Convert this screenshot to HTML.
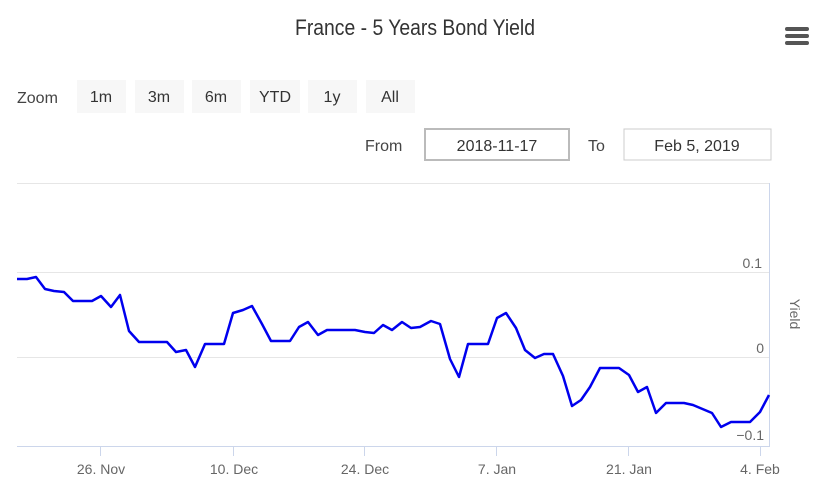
<!DOCTYPE html>
<html><head><meta charset="utf-8"><style>
html,body{margin:0;padding:0;background:#fff;}
svg{display:block;font-family:"Liberation Sans",sans-serif;}
</style></head><body>
<svg width="827" height="493" viewBox="0 0 827 493">
<text x="415" y="35" text-anchor="middle" font-size="22" fill="#333" transform="translate(415,0) scale(0.88,1) translate(-415,0)">France - 5 Years Bond Yield</text>
<g fill="#555"><rect x="785" y="27" width="24" height="4" rx="2"/><rect x="785" y="34" width="24" height="4" rx="2"/><rect x="785" y="41" width="24" height="4" rx="2"/></g>
<text x="17" y="103" font-size="16" fill="#444">Zoom</text>
<g fill="#f7f7f7">
<rect x="77" y="80" width="49" height="33"/><rect x="135" y="80" width="49" height="33"/><rect x="192" y="80" width="49" height="33"/><rect x="250" y="80" width="50" height="33"/><rect x="308" y="80" width="49" height="33"/><rect x="366" y="80" width="49" height="33"/></g>
<g font-size="16" fill="#333" text-anchor="middle">
<text x="101" y="102">1m</text><text x="159" y="102">3m</text><text x="216" y="102">6m</text><text x="275" y="102">YTD</text><text x="332" y="102">1y</text><text x="390" y="102">All</text></g>
<text x="365" y="151" font-size="16" fill="#444">From</text>
<rect x="425" y="129" width="144" height="31" fill="#fff" stroke="#bbb" stroke-width="2"/>
<text x="497" y="151" font-size="16" fill="#333" text-anchor="middle">2018-11-17</text>
<text x="588" y="151" font-size="16" fill="#444">To</text>
<rect x="624" y="129" width="147" height="31" fill="#fff" stroke="#ccc" stroke-width="1"/>
<text x="697" y="151" font-size="16" fill="#333" text-anchor="middle">Feb 5, 2019</text>
<g stroke="#e6e6e6" stroke-width="1">
<line x1="17" y1="183.5" x2="769" y2="183.5"/><line x1="17" y1="272.5" x2="769" y2="272.5"/><line x1="17" y1="357.5" x2="769" y2="357.5"/></g>
<line x1="17" y1="446.5" x2="770" y2="446.5" stroke="#ccd6eb"/>
<line x1="769.5" y1="183" x2="769.5" y2="446" stroke="#ccd6eb"/>
<g stroke="#ccd6eb"><line x1="100.5" y1="446" x2="100.5" y2="456"/><line x1="233.5" y1="446" x2="233.5" y2="456"/><line x1="364.5" y1="446" x2="364.5" y2="456"/><line x1="496.5" y1="446" x2="496.5" y2="456"/><line x1="628.5" y1="446" x2="628.5" y2="456"/><line x1="760.5" y1="446" x2="760.5" y2="456"/></g>
<g font-size="14" fill="#666" text-anchor="middle">
<text x="101" y="474">26. Nov</text><text x="234" y="474">10. Dec</text><text x="365" y="474">24. Dec</text><text x="497" y="474">7. Jan</text><text x="629" y="474">21. Jan</text><text x="760" y="474">4. Feb</text></g>
<g font-size="14" fill="#666" text-anchor="end">
<text x="762" y="268">0.1</text><text x="764" y="353">0</text><text x="764" y="440">−0.1</text></g>
<text font-size="14" fill="#666" transform="translate(790,314) rotate(90)" text-anchor="middle">Yield</text>
<polyline fill="none" stroke="#0000ee" stroke-width="2.5" stroke-linejoin="round" points="17,279 27,279 36,277 45,289 54,291 64,292 73,301 92,301 101,296 111,307 120,295 129,331 139,342 167,342 176,352 186,350 195,367 205,344 224,344 233,313 243,310 252,306 262,324 271,341 290,341 299,327 308,322 318,335 327,330 355,330 365,332 374,333 383,325 392,330 402,322 411,328 420,327 431,321 440,324 450,359 459,377 468,344 488,344 497,318 506,313 516,328 525,350 535,358 544,354 553,354 563,376 572,406 581,400 590,387 600,368 619,368 629,375 638,392 647,387 656,413 666,403 684,403 693,405 712,413 721,427 731,422 750,422 760,412 769,395"/>
</svg>
</body></html>
